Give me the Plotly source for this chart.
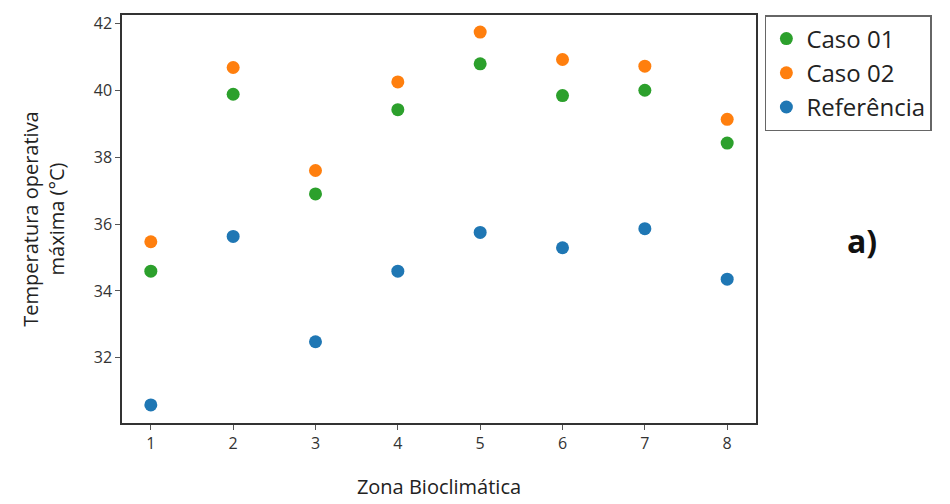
import plotly.graph_objects as go

zonas = [1, 2, 3, 4, 5, 6, 7, 8]
caso01 = [34.59, 39.88, 36.90, 39.42, 40.79, 39.84, 40.00, 38.42]
caso02 = [35.47, 40.68, 37.60, 40.25, 41.74, 40.92, 40.72, 39.13]
referencia = [30.59, 35.63, 32.48, 34.59, 35.75, 35.29, 35.86, 34.35]

series = [
    ("Caso 01", caso01, "#2ca02c"),
    ("Caso 02", caso02, "#ff7f0e"),
    ("Referência", referencia, "#1f77b4"),
]

fig = go.Figure()
for name, vals, color in series:
    fig.add_trace(go.Scatter(
        x=zonas, y=vals, mode="markers", name=name,
        marker=dict(size=13, color=color, line=dict(width=0)),
    ))

font_family = "Open Sans, Liberation Sans, sans-serif"
axis_common = dict(
    showline=True, linecolor="#333333", linewidth=1.5, mirror=True,
    ticks="outside", ticklen=5, tickcolor="#555555", tickwidth=1,
    showgrid=False, zeroline=False,
    tickfont=dict(size=16, color="#333333", family=font_family),
)

fig.update_layout(
    width=950, height=504,
    paper_bgcolor="white", plot_bgcolor="white",
    margin=dict(l=114, r=202, t=4, b=89),
    font=dict(family=font_family, color="#222222"),
    xaxis=dict(range=[0.65, 8.35], tickvals=zonas,
               title=dict(text="Zona Bioclimática", font=dict(size=20), standoff=27),
               **axis_common),
    yaxis=dict(range=[30.05, 42.25], tickvals=[32, 34, 36, 38, 40, 42],
               title=dict(text="Temperatura operativa<br>máxima (°C)", font=dict(size=20), standoff=24),
               **axis_common),
    legend=dict(x=1.014, y=1.0, xanchor="left", yanchor="top",
                bordercolor="#666666", borderwidth=1.5,
                font=dict(size=24, color="#222222"),
                itemsizing="trace", tracegroupgap=0),
    showlegend=True,
    annotations=[dict(text="<b>a)</b>", xref="paper", yref="paper",
                      x=1.194, y=0.447, showarrow=False,
                      font=dict(size=32, color="#111111"))],
)

fig.write_html("out.html")
